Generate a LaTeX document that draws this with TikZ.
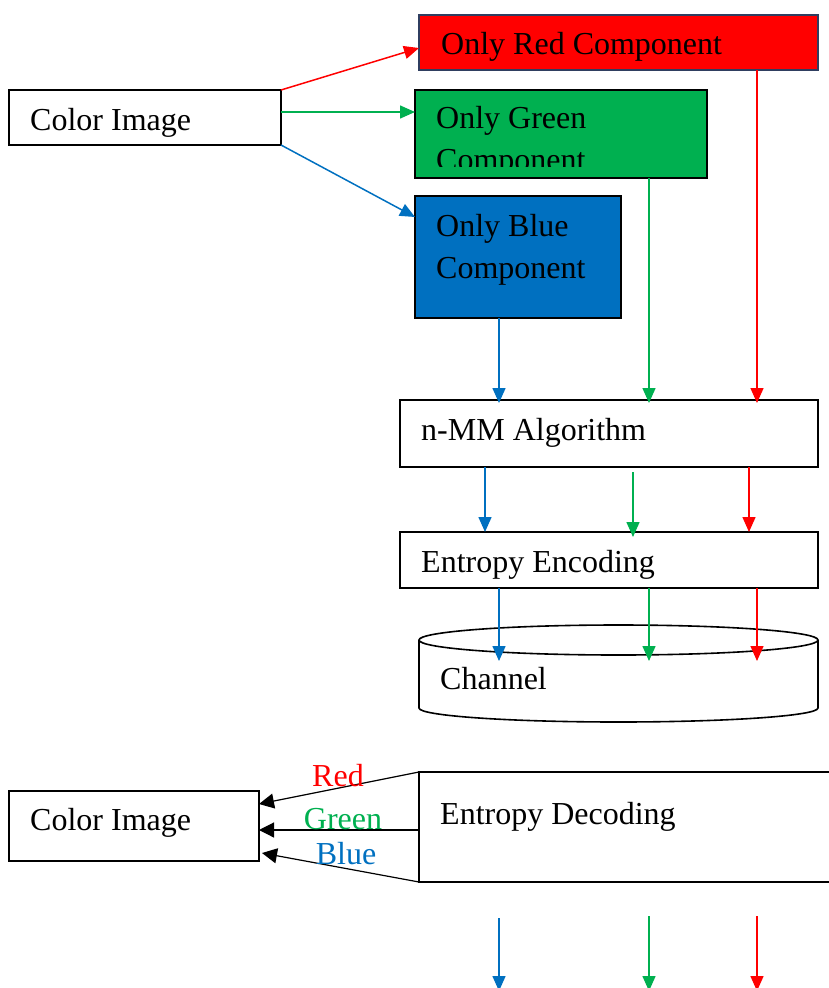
\documentclass[tikz,border=0pt]{standalone}
\usepackage{fontspec}
\setmainfont{Liberation Serif}
\usetikzlibrary{positioning}
\usetikzlibrary{calc}
\usetikzlibrary{arrows.meta}
\definecolor{compred}{RGB}{255,0,0}
\definecolor{compgreen}{RGB}{0,176,80}
\definecolor{compblue}{RGB}{0,112,192}
\definecolor{redframe}{RGB}{47,62,96}
\tikzset{
	box/.style={draw,line width=1.5pt,anchor=north west,outer sep=0pt,inner sep=0pt},
	txt/.style={anchor=base west,inner sep=0pt,font=\fontsize{32}{42}\selectfont},
	lbl/.style={anchor=base,inner sep=0pt,font=\fontsize{32}{38}\selectfont},
	flow/.style={line width=1.5pt,-{Triangle[length=15pt,width=13pt]}},
	back/.style={line width=1.2pt,-{Triangle[length=15pt,width=15pt]}},
}

\begin{document}
\begin{tikzpicture}[x=1pt,y=-1pt]
	\useasboundingbox (0,0) rectangle (829,988);

	%input image.....................
	\node [box,minimum width=272,minimum height=55] (inimg) at (9,90) {};
	\node [txt] (inimgtxt) at (30,130) {Color Image};

	%component boxes.....................
	\node [box,fill=compred,draw=redframe,minimum width=399,minimum height=55] (redbox) at (419,15) {};
	\node [txt] (redtxt) at (441,54) {Only Red Component};

	\node [box,fill=compgreen,minimum width=292,minimum height=88] (greenbox) at (415,90) {};
	\begin{scope}
		\clip (415,90) rectangle (707,166);
		\node [txt,align=left] (greentxt) at (436,170) {Only Green\\Component};
	\end{scope}

	\node [box,fill=compblue,minimum width=206,minimum height=122] (bluebox) at (415,196) {};
	\node [txt,align=left] (bluetxt) at (436,278) {Only Blue\\Component};

	%split arrows.....................
	\draw [flow,compred] (inimg.north east) to ($(redbox.north west)!0.6!(redbox.south west)$);
	\draw [flow,compgreen] ($(inimg.north east)!0.4!(inimg.south east)$) coordinate (gsrc) to (gsrc -| greenbox.west);
	\draw [flow,compblue] (inimg.south east) to ($(bluebox.north west)+(0,21)$);

	%encoder chain.....................
	\node [box,minimum width=418,minimum height=67] (nmm) at (400,400) {};
	\node [txt] (nmmtxt) at (421,440) {n-MM Algorithm};

	\node [box,minimum width=418,minimum height=56] (enc) at (400,532) {};
	\node [txt] (enctxt) at (421,572) {Entropy Encoding};

	\coordinate (bx) at (499,0);
	\coordinate (gx) at (649,0);
	\coordinate (rx) at (757,0);
	\coordinate (bx2) at (485,0);
	\coordinate (gx2) at (633,0);
	\coordinate (rx2) at (749,0);

	\draw [flow,compblue] (bluebox.south -| bx) to ($(nmm.north -| bx)+(0,3)$);
	\draw [flow,compgreen] (greenbox.south -| gx) to ($(nmm.north -| gx)+(0,3)$);
	\draw [flow,compred] (redbox.south -| rx) to ($(nmm.north -| rx)+(0,3)$);

	\draw [flow,compblue] (nmm.south -| bx2) to (enc.north -| bx2);
	\draw [flow,compgreen] ($(nmm.south -| gx2)+(0,5)$) to ($(enc.north -| gx2)+(0,5)$);
	\draw [flow,compred] (nmm.south -| rx2) to (enc.north -| rx2);

	%channel.....................
	\draw [line width=1.6pt] (618.5,640) ellipse [x radius=199.5,y radius=15];
	\draw [line width=1.6pt] (419,640) -- (419,708) arc [start angle=180,end angle=0,x radius=199.5,y radius=14] -- (818,640);
	\node [txt] (chan) at (440,689) {Channel};
	\coordinate (chtop) at (0,661);

	\draw [flow,compblue] (enc.south -| bx) to (chtop -| bx);
	\draw [flow,compgreen] (enc.south -| gx) to (chtop -| gx);
	\draw [flow,compred] (enc.south -| rx) to (chtop -| rx);

	%decoder.....................
	\node [box,minimum width=430,minimum height=110] (dec) at (419,772) {};
	\node [txt] (dectxt) at (440,824) {Entropy Decoding};

	\node [box,minimum width=250,minimum height=70] (outimg) at (9,791) {};
	\node [txt] (outimgtxt) at (30,830) {Color Image};

	\draw [back] (dec.north west) to ($(outimg.north east)+(0,13)$);
	\draw [back] ($(dec.north west)+(0,58)$) coordinate (gin) to (gin -| outimg.east);
	\draw [back] (dec.south west) to ($(outimg.south east)+(3,-8)$);

	\node [lbl,compred] (lred) at (338,786) {Red};
	\node [lbl,compgreen] (lgreen) at (343,829) {Green};
	\node [lbl,compblue] (lblue) at (346,864) {Blue};

	%outgoing arrows.....................
	\coordinate (bstart) at (499,918);
	\coordinate (gstart) at (649,916);
	\coordinate (rstart) at (757,916);
	\coordinate (fend) at (0,991);
	\draw [flow,compblue] (bstart) to (bstart |- fend);
	\draw [flow,compgreen] (gstart) to (gstart |- fend);
	\draw [flow,compred] (rstart) to (rstart |- fend);

\end{tikzpicture}
\end{document}
